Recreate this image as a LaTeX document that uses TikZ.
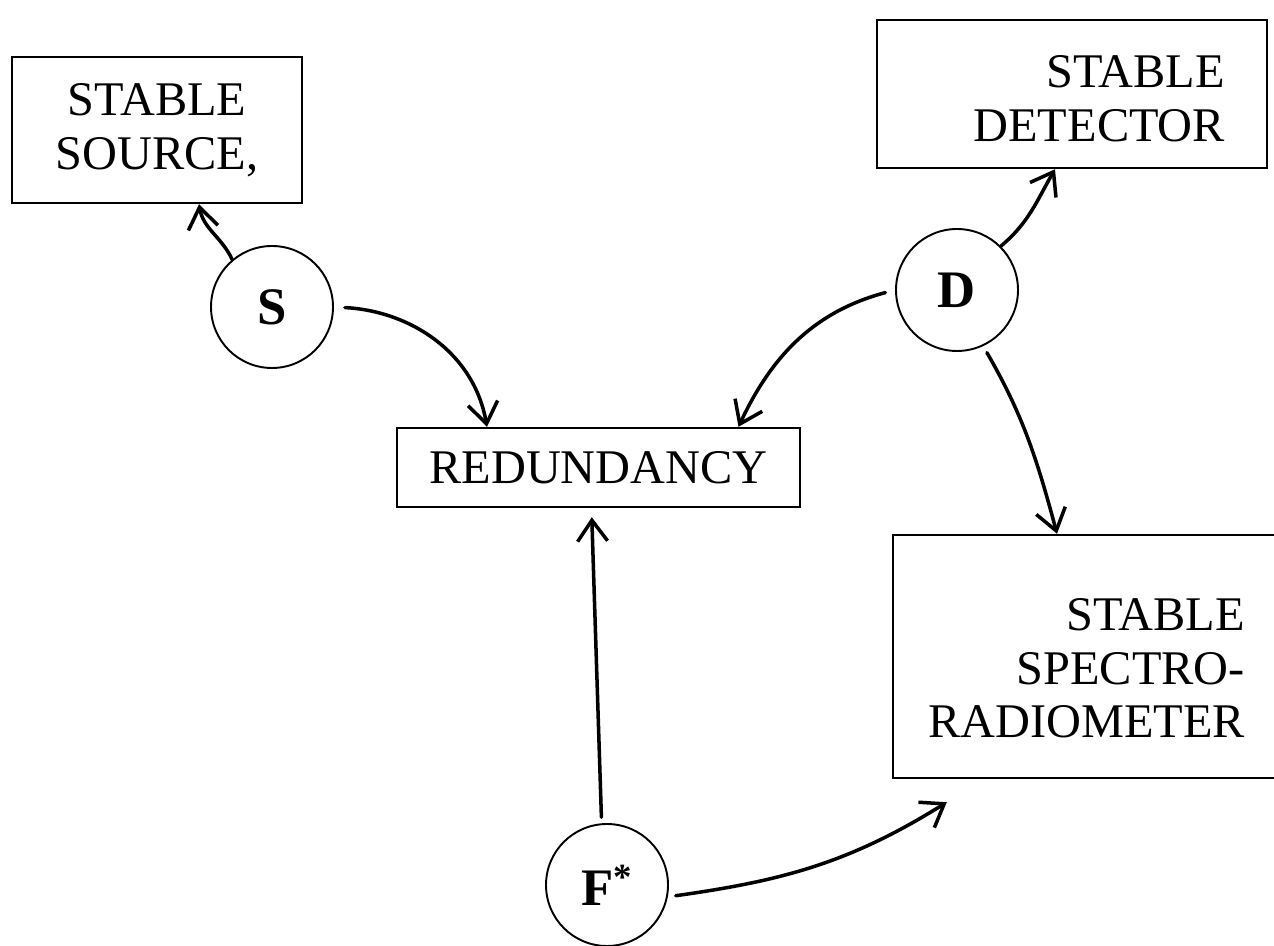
\documentclass[tikz,border=0pt]{standalone}
\usepackage{fontspec}
\setmainfont{Liberation Serif}
\usetikzlibrary{arrows.meta}

\begin{document}
\begin{tikzpicture}[
    block/.style={rectangle, draw, line width=1.4pt, align=center, inner sep=0pt},
    ring/.style={circle, draw, line width=1.1pt, minimum size=2.44cm, inner sep=0pt, font=\fontsize{30}{30}\selectfont\bfseries},
    arrow/.style={-{Straight Barb[length=0.42cm,width=0.6cm]}, line width=2pt, line cap=round, line join=round},
    font=\fontsize{27.5}{30.5}\selectfont
]
\useasboundingbox (0,0) rectangle (25.48,18.9);

% Instruments
\node[block, minimum width=5.8cm, minimum height=2.92cm] (source) at (3.14, 16.30) {STABLE\\SOURCE,};
\node[block, text width=6.12cm, inner xsep=0.84cm, minimum height=2.96cm, align=right] (detector) at (21.44, 17.02) {\rule{0pt}{0.84cm}STABLE\\DETECTOR};
\node[block, minimum width=7.74cm, minimum height=4.86cm, align=right] (spectro) at (21.73, 5.77) {\rule{0pt}{1.12cm}STABLE\\SPECTRO-\\RADIOMETER};

% Redundancy
\node[block, minimum width=8.06cm, minimum height=1.58cm] (redundancy) at (11.97, 9.55) {REDUNDANCY};

% Circles
\node[ring] (S) at (5.44, 12.76) {S};
\node[ring] (D) at (19.14, 13.10) {D};
\node[ring] (F) at (12.14, 1.20) {F\textsuperscript{*}};

% Arrows
\draw[arrow] (S.130) to[out=115, in=-80] ([xshift=0.84cm]source.south);
\draw[arrow, shorten <=0.22cm] (S.east) to[out=-3, in=100] ([xshift=-2.23cm]redundancy.north);
\draw[arrow, shorten <=0.2cm] (D.west) to[out=195, in=65] ([xshift=2.8cm]redundancy.north);
\draw[arrow] (D.45) to[out=40, in=-120] ([xshift=-0.34cm]detector.south);
\draw[arrow, shorten <=0.15cm] (D.-65) to[out=-60, in=105] ([xshift=-0.59cm]spectro.north);
\draw[arrow, shorten <=0.12cm, shorten >=0.18cm] (F.95) -- ([xshift=-0.14cm]redundancy.south);
\draw[arrow, shorten <=0.16cm] (F.-11) to[out=8, in=-148] ([xshift=1.1cm,yshift=-0.46cm]spectro.south west);

\end{tikzpicture}
\end{document}
